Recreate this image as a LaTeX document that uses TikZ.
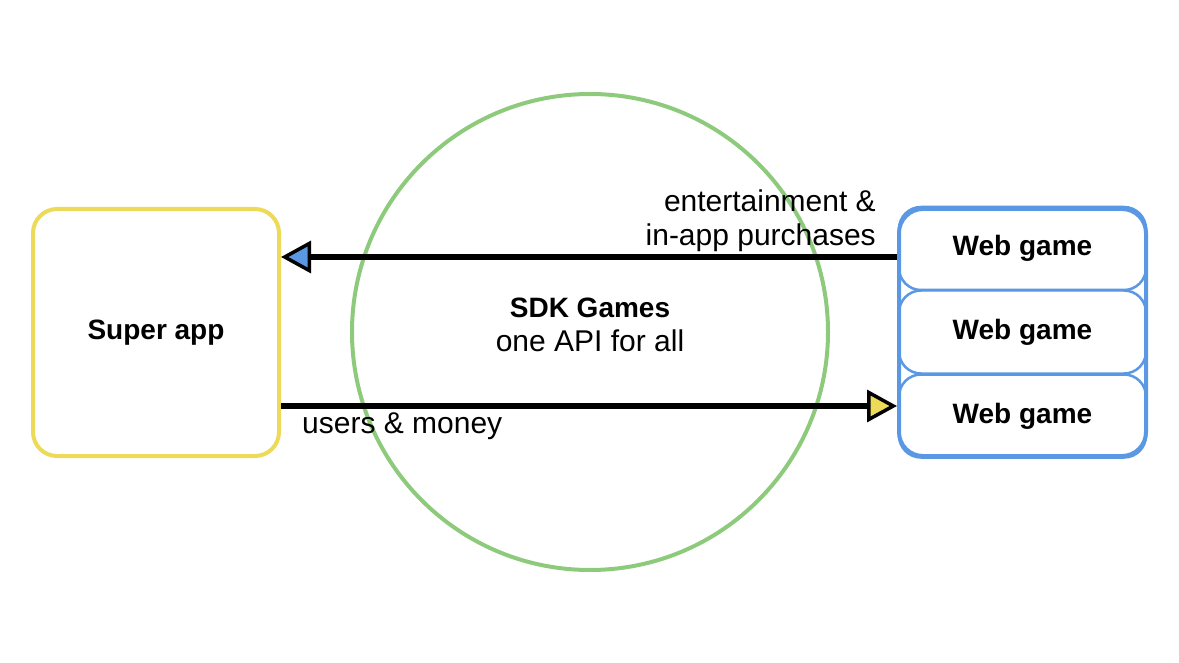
\documentclass[tikz,border=0pt]{standalone}
\usepackage{fontspec}
\setmainfont{Liberation Sans}
\usetikzlibrary{arrows.meta}
\definecolor{appyellow}{RGB}{236,218,88}
\definecolor{gameblue}{RGB}{90,152,228}
\definecolor{sdkgreen}{RGB}{142,202,124}
\newcommand{\reg}{\fontsize{30}{36}\selectfont}
\newcommand{\bld}{\fontsize{28}{34}\selectfont\bfseries}
\begin{document}
\begin{tikzpicture}[x=1pt,y=-1pt]
    \tikzstyle{appbox}=[draw=appyellow, line width=4pt, rounded corners=24pt, minimum width=246pt, minimum height=247pt, inner sep=0pt, font=\bld]
    \tikzstyle{gamebox}=[draw=gameblue, line width=2.5pt, rounded corners=22pt, minimum width=247pt, minimum height=83pt, inner sep=0pt, font=\bld]
    \tikzstyle{flow}=[line width=6pt]
    \useasboundingbox (0,0) rectangle (1179,663);
    \node[draw=sdkgreen, line width=4pt, circle, minimum size=476pt, inner sep=0pt] (sdk) at (590,332) {};
    \node[appbox] (superapp) at (156,332.5) {Super app};
    \node[gamebox] (game1) at (1022.5,248.5) {Web game};
    \node[gamebox] (game2) at (1022.5,332) {Web game};
    \node[gamebox] (game3) at (1022.5,416) {Web game};
    \node[draw=gameblue, line width=4pt, rounded corners=24pt, minimum width=247pt, minimum height=247pt, inner sep=0pt] (games) at (1022.5,332.5) {};
    \draw[flow, -{Triangle[length=30pt, width=32pt, line width=3.5pt, fill=gameblue]}] (games.west |- 0,257) -- (superapp.east |- 0,257);
    \draw[flow, -{Triangle[length=30pt, width=32pt, line width=3.5pt, fill=appyellow]}] (superapp.east |- 0,406) -- (games.west |- 0,406);
    \node[font=\reg, anchor=base east, inner sep=0pt] (gamesout) at (876,212) {entertainment \&};
    \node[font=\reg, anchor=base east, inner sep=0pt] (gamesout2) at (876,246) {in-app purchases};
    \node[font=\bld, anchor=base, inner sep=0pt] (sdkname) at (590,317) {SDK Games};
    \node[font=\reg, anchor=base, inner sep=0pt] (sdktag) at (590,352) {one API for all};
    \node[font=\reg, anchor=base west, inner sep=0pt] (appout) at (302,433) {users \& money};
\end{tikzpicture}
\end{document}
